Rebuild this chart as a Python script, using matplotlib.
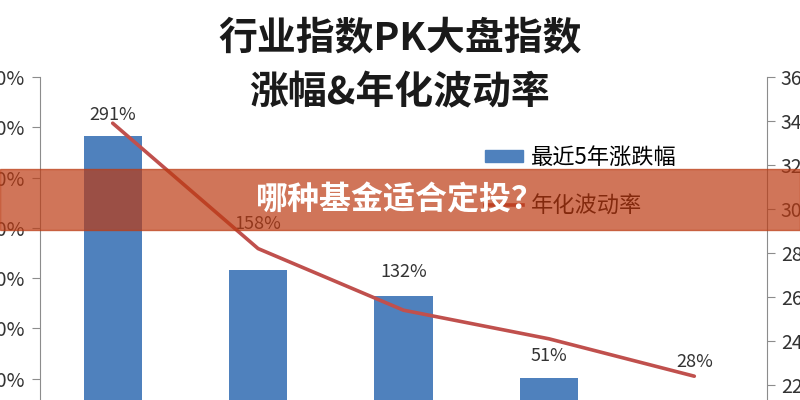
import matplotlib
matplotlib.use("Agg")
from matplotlib import pyplot as plt
from matplotlib.patches import Rectangle, Patch
from matplotlib.lines import Line2D
from matplotlib.ticker import FuncFormatter

plt.rcParams['font.family'] = ['Noto Sans CJK SC', 'DejaVu Sans']

# data
categories = ["A", "B", "C", "D", "E"]
rise_5y = [291, 158, 132, 51, 28]            # 最近5年涨跌幅 (%)
volatility = [33.9, 28.2, 25.4, 24.1, 22.4]  # 年化波动率 (%)
bar_labels = ["291%", "158%", "132%", "51%", "28%"]

# label offsets above bar tops, pixels (labels were moved by hand in the original)
label_dy = [21, 46, 24, 22, 39]

blue = "#4F81BD"
red = "#C0504D"
grey = "#8C8C8C"

fig = plt.figure(figsize=(8, 4), dpi=100)
# plot area runs past the bottom of the picture (the screenshot is cropped)
ax = fig.add_axes([0.05, 1 - 429 / 400, 727 / 800, 352 / 400])
x = list(range(len(categories)))
ax.bar(x, rise_5y, width=0.4, color=blue, zorder=2)
ax.set_xlim(-0.5, len(categories) - 0.5)
ax.set_ylim(0, 350)
ax.set_yticks(range(50, 351, 50))
ax.yaxis.set_major_formatter(FuncFormatter(lambda v, p: "%d%%" % v))
ax.set_xticks([])
for s in ["top", "bottom", "right"]:
    ax.spines[s].set_visible(False)
ax.spines["left"].set_color(grey)
ax.tick_params(axis="y", colors=grey, labelcolor="#333333", labelsize=14,
               length=6, direction="out", pad=5)

for i, v in enumerate(rise_5y):
    ax.annotate(bar_labels[i], (x[i], v), xytext=(0, label_dy[i]),
                textcoords="offset pixels", ha="center", va="center",
                fontsize=13, color="#333333", zorder=5)

ax2 = ax.twinx()
ax2.plot(x, volatility, color=red, linewidth=2.6, solid_capstyle="round")
ax2.set_ylim(20, 36)
ax2.set_yticks(range(20, 37, 2))
ax2.yaxis.set_major_formatter(FuncFormatter(lambda v, p: "%d%%" % v))
for s in ["top", "bottom", "left"]:
    ax2.spines[s].set_visible(False)
ax2.spines["right"].set_color(grey)
ax2.tick_params(axis="y", colors=grey, labelcolor="#333333", labelsize=14,
                length=6, direction="out", pad=4)

# legend
handles = [Patch(color=blue), Line2D([0], [0], color=red, linewidth=2.6)]
fig.legend(handles, ["最近5年涨跌幅", "年化波动率"], loc="upper left",
           bbox_to_anchor=(485 / 800, 1 - 146 / 400), frameon=False,
           fontsize=16, borderpad=0, borderaxespad=0, handlelength=1.7,
           handletextpad=0.35, labelspacing=1.15, handleheight=0.5)

# title
fig.text(0.5, 1 - 38 / 400, "行业指数PK大盘指数", ha="center", va="center",
         fontsize=28, fontweight="bold", color="#1a1a1a")
fig.text(0.5, 1 - 93 / 400, "涨幅&年化波动率", ha="center", va="center",
         fontsize=28, fontweight="bold", color="#1a1a1a")

# overlay banner
fig.patches.append(Rectangle((0, 1 - 230 / 400), 1, 61 / 400,
                             transform=fig.transFigure, color=(188 / 255, 59 / 255, 19 / 255),
                             alpha=0.7, zorder=10))
fig.text(0.5, 0.5, "哪种基金适合定投？", ha="center", va="center",
         fontsize=23, fontweight="bold", color="white", zorder=11)

fig.savefig("out.png", dpi=100)
